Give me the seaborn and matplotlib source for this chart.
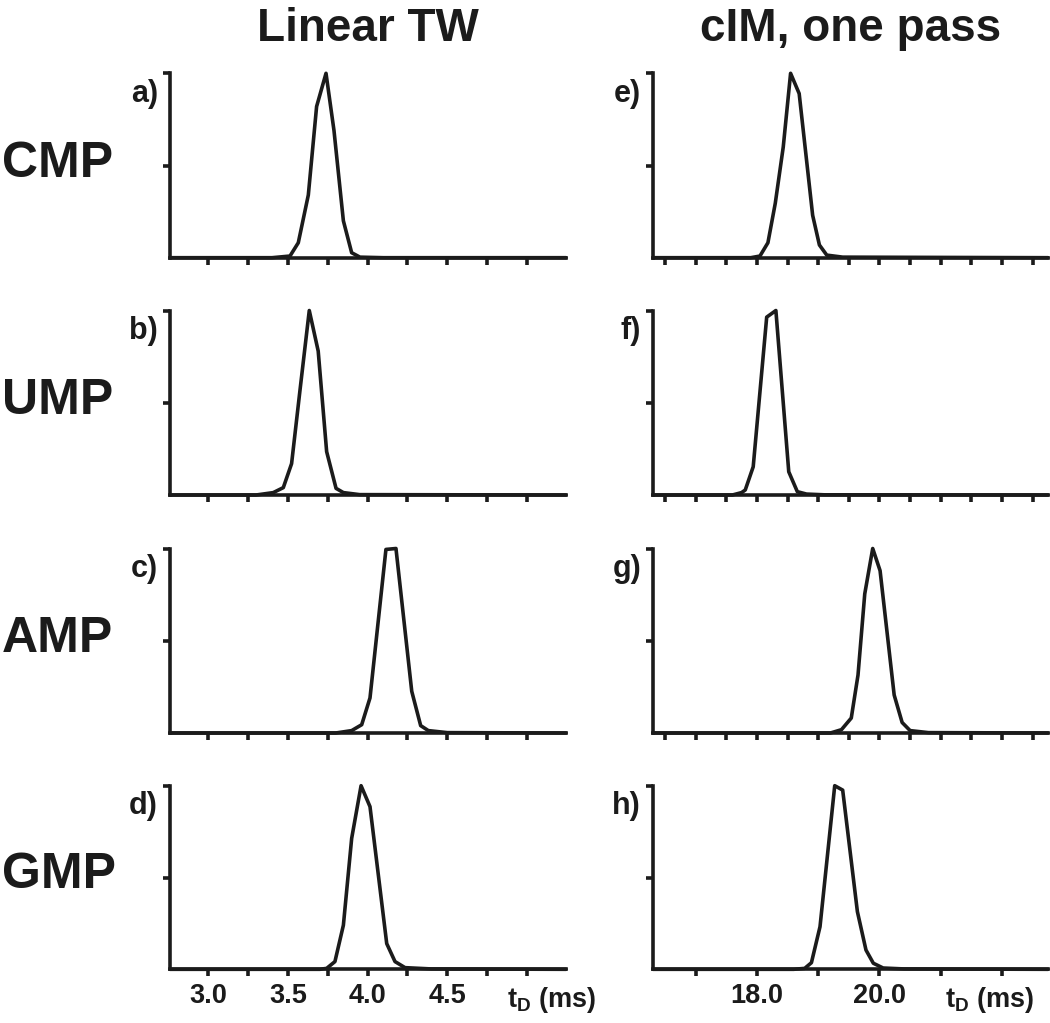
import matplotlib
matplotlib.use("Agg")
import matplotlib.pyplot as plt
import seaborn as sns

# ---------------- data ----------------
col_titles = ["Linear TW", "cIM, one pass"]
row_names = ["CMP", "UMP", "AMP", "GMP"]
panel_letters = [["a)", "b)", "c)", "d)"], ["e)", "f)", "g)", "h)"]]

# Linear TW: drift time (ms) and normalised intensity
cmp_lin_t = [2.76, 3.40, 3.513, 3.565, 3.628, 3.680, 3.739, 3.789, 3.848, 3.900, 3.952, 4.10, 5.245]
cmp_lin_i = [0, 0, 0.009, 0.081, 0.34, 0.82, 1.0, 0.69, 0.20, 0.027, 0.003, 0.0, 0]
ump_lin_t = [2.76, 3.30, 3.408, 3.471, 3.523, 3.576, 3.634, 3.690, 3.743, 3.802, 3.848, 3.95, 5.245]
ump_lin_i = [0, 0, 0.013, 0.04, 0.17, 0.57, 1.0, 0.78, 0.235, 0.036, 0.013, 0.002, 0]
amp_lin_t = [2.76, 3.80, 3.900, 3.963, 4.015, 4.115, 4.178, 4.277, 4.333, 4.381, 4.50, 5.245]
amp_lin_i = [0, 0, 0.013, 0.045, 0.19, 0.995, 1.0, 0.226, 0.04, 0.013, 0.002, 0]
gmp_lin_t = [2.76, 3.70, 3.743, 3.795, 3.848, 3.900, 3.959, 4.015, 4.120, 4.172, 4.235, 4.40, 5.245]
gmp_lin_i = [0, 0, 0.005, 0.042, 0.24, 0.713, 1.0, 0.886, 0.14, 0.042, 0.009, 0.002, 0]

# cIM one pass: drift time (ms) and normalised intensity
cmp_cim_t = [16.305, 17.9, 18.05, 18.18, 18.30, 18.43, 18.55, 18.69, 18.91, 19.02, 19.14, 19.40, 22.75]
cmp_cim_i = [0, 0, 0.009, 0.081, 0.295, 0.60, 1.0, 0.89, 0.23, 0.069, 0.014, 0.003, 0]
ump_cim_t = [16.305, 17.6, 17.75, 17.81, 17.94, 18.16, 18.31, 18.52, 18.66, 18.81, 19.1, 22.75]
ump_cim_i = [0, 0, 0.013, 0.027, 0.153, 0.964, 1.0, 0.126, 0.018, 0.005, 0.001, 0]
amp_cim_t = [16.305, 19.2, 19.38, 19.54, 19.65, 19.76, 19.89, 20.01, 20.24, 20.37, 20.50, 20.8, 22.75]
amp_cim_i = [0, 0, 0.018, 0.081, 0.314, 0.754, 1.0, 0.88, 0.206, 0.057, 0.013, 0.002, 0]
gmp_cim_t = [16.305, 18.6, 18.78, 18.89, 19.03, 19.27, 19.40, 19.64, 19.78, 19.90, 20.06, 20.4, 22.75]
gmp_cim_i = [0, 0, 0.005, 0.036, 0.232, 1.0, 0.976, 0.314, 0.105, 0.033, 0.007, 0.002, 0]

lin_xlim = (2.76, 5.245)
cim_xlim = (16.305, 22.75)

lin_ticks = [3.0, 3.25, 3.5, 3.75, 4.0, 4.25, 4.5, 4.75, 5.0]
lin_ticklabels = ["3.0", "", "3.5", "", "4.0", "", "4.5", "", ""]
cim_ticks_upper = [16.5, 17.0, 17.5, 18.0, 18.5, 19.0, 19.5, 20.0, 20.5, 21.0, 21.5, 22.0, 22.5]
cim_ticks_bottom = [17.0, 18.0, 19.0, 20.0, 21.0, 22.0]
cim_ticklabels = ["", "18.0", "", "20.0", "", ""]
y_ticks = [0.5, 1.0]
x_label = "t$_{\\mathrm{D}}$ (ms)"

traces = [
    [(cmp_lin_t, cmp_lin_i), (ump_lin_t, ump_lin_i), (amp_lin_t, amp_lin_i), (gmp_lin_t, gmp_lin_i)],
    [(cmp_cim_t, cmp_cim_i), (ump_cim_t, ump_cim_i), (amp_cim_t, amp_cim_i), (gmp_cim_t, gmp_cim_i)],
]

# ---------------- style ----------------
sns.set_style("ticks")
plt.rcParams['font.family'] = ['Liberation Sans', 'DejaVu Sans']
plt.rcParams['font.weight'] = 'bold'
plt.rcParams['mathtext.fontset'] = 'custom'
plt.rcParams['mathtext.rm'] = 'Liberation Sans:bold'
plt.rcParams['mathtext.it'] = 'Liberation Sans:bold'
plt.rcParams['mathtext.bf'] = 'Liberation Sans:bold'

INK = "#1b1b1b"
LW = 2.6
W, H = 1050.0, 1023.0

fig = plt.figure(figsize=(10.5, 10.23), dpi=100)
fig.patch.set_facecolor("white")

col_px = [(170.0, 566.0), (653.0, 1048.0)]
row_px = [(73.3, 257.7), (310.5, 495.0), (548.5, 733.0), (785.7, 969.3)]

for c in range(2):
    x0, x1 = col_px[c]
    for r in range(4):
        yt, yb = row_px[r]
        ax = fig.add_axes([x0 / W, 1 - yb / H, (x1 - x0) / W, (yb - yt) / H])
        t, inten = traces[c][r]
        sns.lineplot(x=t, y=inten, ax=ax, color=INK, linewidth=LW,
                     sort=False, estimator=None, clip_on=False)
        ax.set_facecolor("white")
        ax.set_ylim(0, 1.0)
        ax.set_xlim(*(lin_xlim if c == 0 else cim_xlim))
        sns.despine(ax=ax)
        for s in ("left", "bottom"):
            ax.spines[s].set_linewidth(LW)
            ax.spines[s].set_color(INK)
        ax.set_yticks(y_ticks)
        ax.tick_params(axis="both", direction="out", length=5, width=LW,
                       color=INK, labelsize=19.5, pad=5, labelcolor=INK)
        ax.tick_params(axis="y", labelleft=False)
        if c == 0:
            ax.set_xticks(lin_ticks)
            if r == 3:
                ax.set_xticklabels(lin_ticklabels, fontweight="bold")
            else:
                ax.set_xticklabels([])
        else:
            if r == 3:
                ax.set_xticks(cim_ticks_bottom)
                ax.set_xticklabels(cim_ticklabels, fontweight="bold")
            else:
                ax.set_xticks(cim_ticks_upper)
                ax.set_xticklabels([])
        ax.set_xlabel("")
        ax.set_ylabel("")

        # panel letter
        fig.text((x0 - 12) / W, 1 - (yt + 28.5) / H, panel_letters[c][r],
                 ha="right", va="baseline", fontsize=22, fontweight="bold", color=INK)

        if c == 0:
            fig.text(2 / W, 1 - (yb - 81) / H, row_names[r], ha="left", va="baseline",
                     fontsize=36, fontweight="bold", color=INK)

    # column title
    fig.text((x0 + x1) / 2 / W, 1 - 41 / H, col_titles[c], ha="center", va="baseline",
             fontsize=33, fontweight="bold", color=INK)

# x-axis labels
fig.text(552 / W, 1 - 1007 / H, x_label, ha="center", va="baseline",
         fontsize=19.5, fontweight="bold", color=INK)
fig.text(990 / W, 1 - 1007 / H, x_label, ha="center", va="baseline",
         fontsize=19.5, fontweight="bold", color=INK)

fig.savefig("out.png", dpi=100, facecolor="white")
